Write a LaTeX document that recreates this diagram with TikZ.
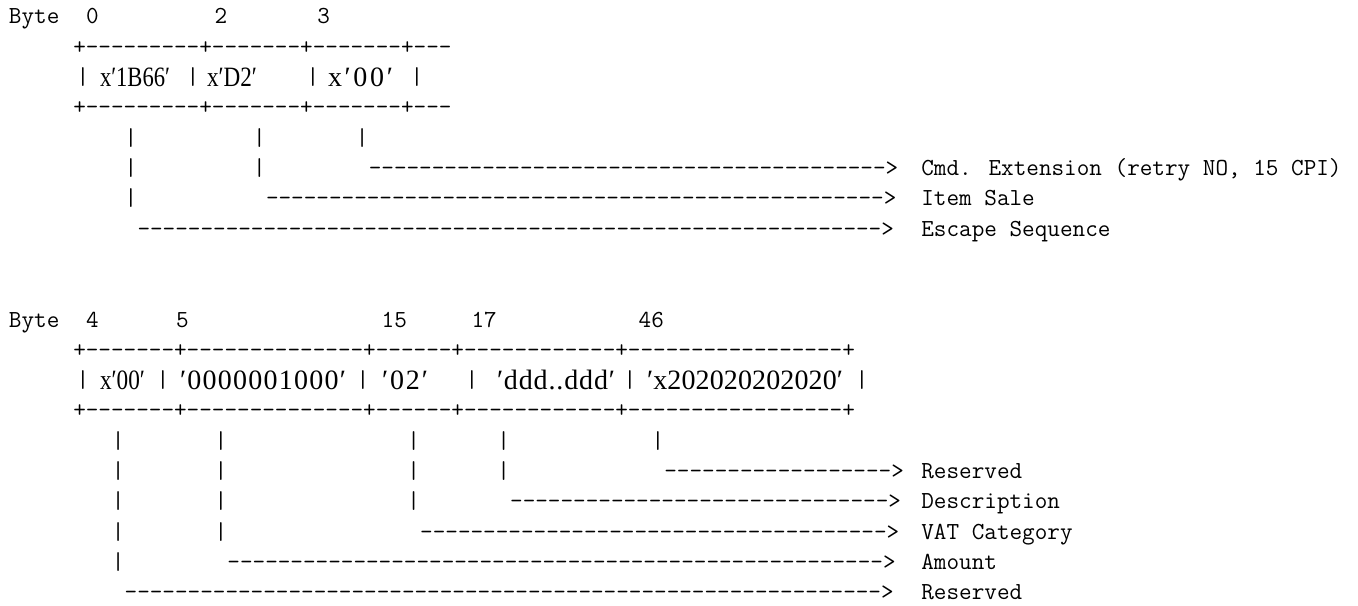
\documentclass[tikz,border=0pt]{standalone}
\usepackage{fontspec}
\usepackage{graphicx}
\newfontfamily\serf{Liberation Serif}
\newdimen\pxu \pxu=0.5pt
\newsavebox\cellbox
\newcommand\dsh[1]{\foreach\k in {1,...,#1}{-\kern0pt}}
\newcommand\mt[4]{\node[mono] (#1) at ({9+12.85*(#2)},{24+30.3*(#3)}) {#4};}
\newcommand\vb[3]{\node[mono,anchor=base] (#1) at (#2,{24+30.3*(#3)}) {|};}
\newcommand\cellfit[2]{\sbox\cellbox{#2}\ifdim\wd\cellbox<#1\pxu\makebox[#1\pxu][s]{#2}\else\resizebox{#1\pxu}{\height}{\usebox\cellbox}\fi}
\newcommand\cl[5]{\node[cell] (#1) at (#2,#3) {\cellfit{#4}{#5}};}
\begin{document}
\begin{tikzpicture}[x=0.5pt,y=-0.5pt,
  mono/.style={font=\ttfamily\fontsize{12.24pt}{14pt}\selectfont,inner sep=0pt,outer sep=0pt,anchor=base west},
  cell/.style={font=\serf\fontsize{14pt}{16pt}\selectfont,inner sep=0pt,outer sep=0pt,anchor=base west}]
\fill[white] (0,0) rectangle (1358,605);
\useasboundingbox (0,0) rectangle (1358,605);
% ---------- first frame ----------
\mt{by1}{0}{0}{Byte}
\mt{n0}{6}{0}{0}
\mt{n2}{16}{0}{2}
\mt{n3}{24}{0}{3}
\mt{t1}{5}{1}{+\dsh{9}+\dsh{7}+\dsh{7}+\dsh{3}}
\vb{c1}{83}{2}
\vb{c2}{193}{2}
\vb{c3}{313}{2}
\vb{c4}{417}{2}
\cl{x1}{100}{86}{70}{x\hfil′\hfil1\hfil B\hfil6\hfil6\hfil′}
\cl{x2}{207}{86}{50}{x\hfil′\hfil D\hfil2\hfil′}
\cl{x3}{328}{86}{65}{x\hfil′\hfil0\hfil0\hfil′}
\mt{t3}{5}{3}{+\dsh{9}+\dsh{7}+\dsh{7}+\dsh{3}}
\mt{v4a}{9}{4}{|}
\mt{v4b}{19}{4}{|}
\mt{v4c}{27}{4}{|}
\mt{v5a}{9}{5}{|}
\mt{v5b}{19}{5}{|}
\mt{a5}{28}{5}{\dsh{41}>}
\mt{l5}{71}{5}{Cmd. Extension (retry NO, 15 CPI)}
\mt{v6a}{9}{6}{|}
\mt{a6}{20}{6}{\dsh{49}>}
\mt{l6}{71}{6}{Item Sale}
\mt{a7}{10}{7}{\dsh{59}>}
\mt{l7}{71}{7}{Escape Sequence}
% ---------- second frame ----------
\mt{by2}{0}{10}{Byte}
\mt{n4}{6}{10}{4}
\mt{n5}{13}{10}{5}
\mt{n15}{29}{10}{15}
\mt{n17}{36}{10}{17}
\mt{n46}{49}{10}{46}
\mt{t11}{5}{11}{+\dsh{7}+\dsh{14}+\dsh{6}+\dsh{12}+\dsh{17}+}
\vb{d1}{83}{12}
\vb{d2}{163}{12}
\vb{d3}{363}{12}
\vb{d4}{472}{12}
\vb{d5}{630}{12}
\vb{d6}{862}{12}
\cl{y1}{100}{389}{45}{x\hfil′\hfil0\hfil0\hfil′}
\cl{y2}{180}{389}{166}{′\hfil0\hfil0\hfil0\hfil0\hfil0\hfil0\hfil1\hfil0\hfil0\hfil0\hfil′}
\cl{y3}{382}{389}{46}{′\hfil0\hfil2\hfil′}
\cl{y4}{497}{389}{118}{′\hfil d\hfil d\hfil d\hfil.\hfil.\hfil d\hfil d\hfil d\hfil′}
\cl{y5}{647}{389}{196}{′\hfil x\hfil2\hfil0\hfil2\hfil0\hfil2\hfil0\hfil2\hfil0\hfil2\hfil0\hfil2\hfil0\hfil′}
\mt{t13}{5}{13}{+\dsh{7}+\dsh{14}+\dsh{6}+\dsh{12}+\dsh{17}+}
\mt{w14a}{8}{14}{|}
\mt{w14b}{16}{14}{|}
\mt{w14c}{31}{14}{|}
\mt{w14d}{38}{14}{|}
\mt{w14e}{50}{14}{|}
\mt{w15a}{8}{15}{|}
\mt{w15b}{16}{15}{|}
\mt{w15c}{31}{15}{|}
\mt{w15d}{38}{15}{|}
\mt{b15}{51}{15}{\dsh{18}>}
\mt{m15}{71}{15}{Reserved}
\mt{w16a}{8}{16}{|}
\mt{w16b}{16}{16}{|}
\mt{w16c}{31}{16}{|}
\mt{b16}{39}{16}{\dsh{30}>}
\mt{m16}{71}{16}{Description}
\mt{w17a}{8}{17}{|}
\mt{w17b}{16}{17}{|}
\mt{b17}{32}{17}{\dsh{37}>}
\mt{m17}{71}{17}{VAT Category}
\mt{w18a}{8}{18}{|}
\mt{b18}{17}{18}{\dsh{52}>}
\mt{m18}{71}{18}{Amount}
\mt{b19}{9}{19}{\dsh{60}>}
\mt{m19}{71}{19}{Reserved}
\end{tikzpicture}
\end{document}
